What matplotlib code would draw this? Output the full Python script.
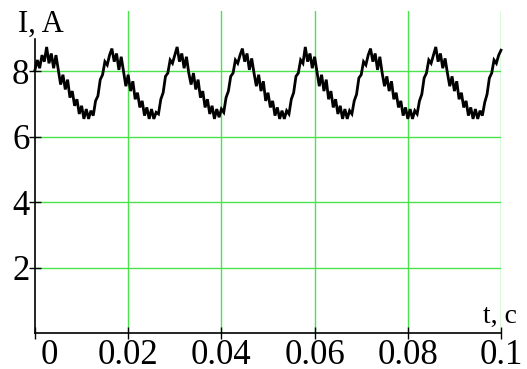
import numpy as np
import matplotlib
matplotlib.use("Agg")
import matplotlib.pyplot as plt
from matplotlib.transforms import ScaledTranslation

# time step between readings, s
DT = 0.0005
current = [
    8.05, 8.35, 8.10, 8.50, 8.30, 8.75, 8.25, 8.55, 8.10, 8.50,
    8.05, 7.60, 7.90, 7.45, 7.75, 7.20, 7.40, 6.95, 7.15, 6.70,
    6.95, 6.55, 6.85, 6.55, 6.80, 6.65, 7.10, 7.25, 7.75, 7.90,
    8.30, 8.20, 8.50, 8.70, 8.30, 8.55, 8.05, 8.45, 8.00, 7.55,
    7.90, 7.40, 7.70, 7.15, 7.35, 6.90, 7.10, 6.65, 6.90, 6.55,
    6.85, 6.55, 6.75, 6.70, 7.15, 7.35, 7.85, 7.95, 8.35, 8.25,
    8.50, 8.75, 8.30, 8.55, 8.10, 8.45, 7.95, 7.60, 7.95, 7.45,
    7.75, 7.20, 7.40, 6.90, 7.15, 6.70, 6.95, 6.55, 6.85, 6.60,
    6.85, 6.75, 7.20, 7.40, 7.85, 7.95, 8.35, 8.25, 8.50, 8.70,
    8.30, 8.55, 8.05, 8.40, 7.95, 7.55, 7.90, 7.40, 7.70, 7.10,
    7.35, 6.90, 7.10, 6.65, 6.90, 6.55, 6.80, 6.55, 6.80, 6.70,
    7.15, 7.35, 7.85, 7.95, 8.35, 8.25, 8.75, 8.30, 8.55, 8.10,
    8.45, 8.00, 7.55, 7.90, 7.40, 7.75, 7.15, 7.40, 6.90, 7.15,
    6.70, 6.95, 6.55, 6.85, 6.55, 6.80, 6.70, 7.10, 7.30, 7.80,
    7.90, 8.30, 8.20, 8.50, 8.70, 8.30, 8.55, 8.05, 8.45, 7.95,
    7.55, 7.85, 7.40, 7.70, 7.15, 7.35, 6.90, 7.10, 6.65, 6.90,
    6.55, 6.85, 6.55, 6.80, 6.70, 7.10, 7.30, 7.80, 7.95, 8.35,
    8.25, 8.50, 8.75, 8.30, 8.55, 8.10, 8.40, 7.95, 7.55, 7.85,
    7.40, 7.70, 7.15, 7.35, 6.90, 7.10, 6.65, 6.90, 6.55, 6.85,
    6.55, 6.80, 6.65, 7.05, 7.30, 7.80, 7.95, 8.35, 8.25, 8.50,
    8.65,
]
t = np.arange(len(current)) * DT

x_ticks = [0, 0.02, 0.04, 0.06, 0.08, 0.1]
x_labels = ["0", "0.02", "0.04", "0.06", "0.08", "0.1"]
y_ticks = [2, 4, 6, 8]
y_labels = ["2", "4", "6", "8"]

GREEN = "#4ce24c"
SERIF = ["Liberation Serif", "DejaVu Serif"]

fig = plt.figure(figsize=(5.27, 3.69), dpi=100, facecolor="white")
ax = fig.add_axes([0.0664, 0.0976, 0.8843, 0.8726])
ax.set_xlim(0, 0.1)
ax.set_ylim(0, 9.85)

for xv in x_ticks[1:]:
    ax.axvline(xv, color=GREEN, lw=1.0, zorder=1)
for yv in y_ticks:
    ax.axhline(yv, color=GREEN, lw=1.0, zorder=1)

ax.plot(t, current, color="black", lw=2.0, zorder=3, clip_on=False,
        solid_joinstyle="miter")

for side in ("top", "right"):
    ax.spines[side].set_visible(False)
ax.spines["left"].set_bounds(0, 9.0)
ax.spines["left"].set_linewidth(1.2)
ax.spines["bottom"].set_linewidth(1.2)

ax.set_xticks(x_ticks)
ax.set_xticklabels(x_labels)
ax.set_yticks(y_ticks)
ax.set_yticklabels(y_labels)
ax.tick_params(direction="inout", length=8, width=1.0, colors="black",
               labelsize=25)
ax.tick_params(axis="x", pad=0)
ax.tick_params(axis="y", pad=0)
for lbl in ax.get_xticklabels() + ax.get_yticklabels():
    lbl.set_family(SERIF)
first = ax.get_xticklabels()[0]
first.set_transform(first.get_transform()
                    + ScaledTranslation(14 / 100, 0, fig.dpi_scale_trans))

fig.text(18 / 527, 1 - 32 / 369, "I, A", family=SERIF, fontsize=22,
         va="baseline", ha="left")
fig.text(483 / 527, 1 - 323 / 369, "t, c", family=SERIF, fontsize=20,
         va="baseline", ha="left")

fig.savefig("out.png", dpi=100, facecolor="white")
